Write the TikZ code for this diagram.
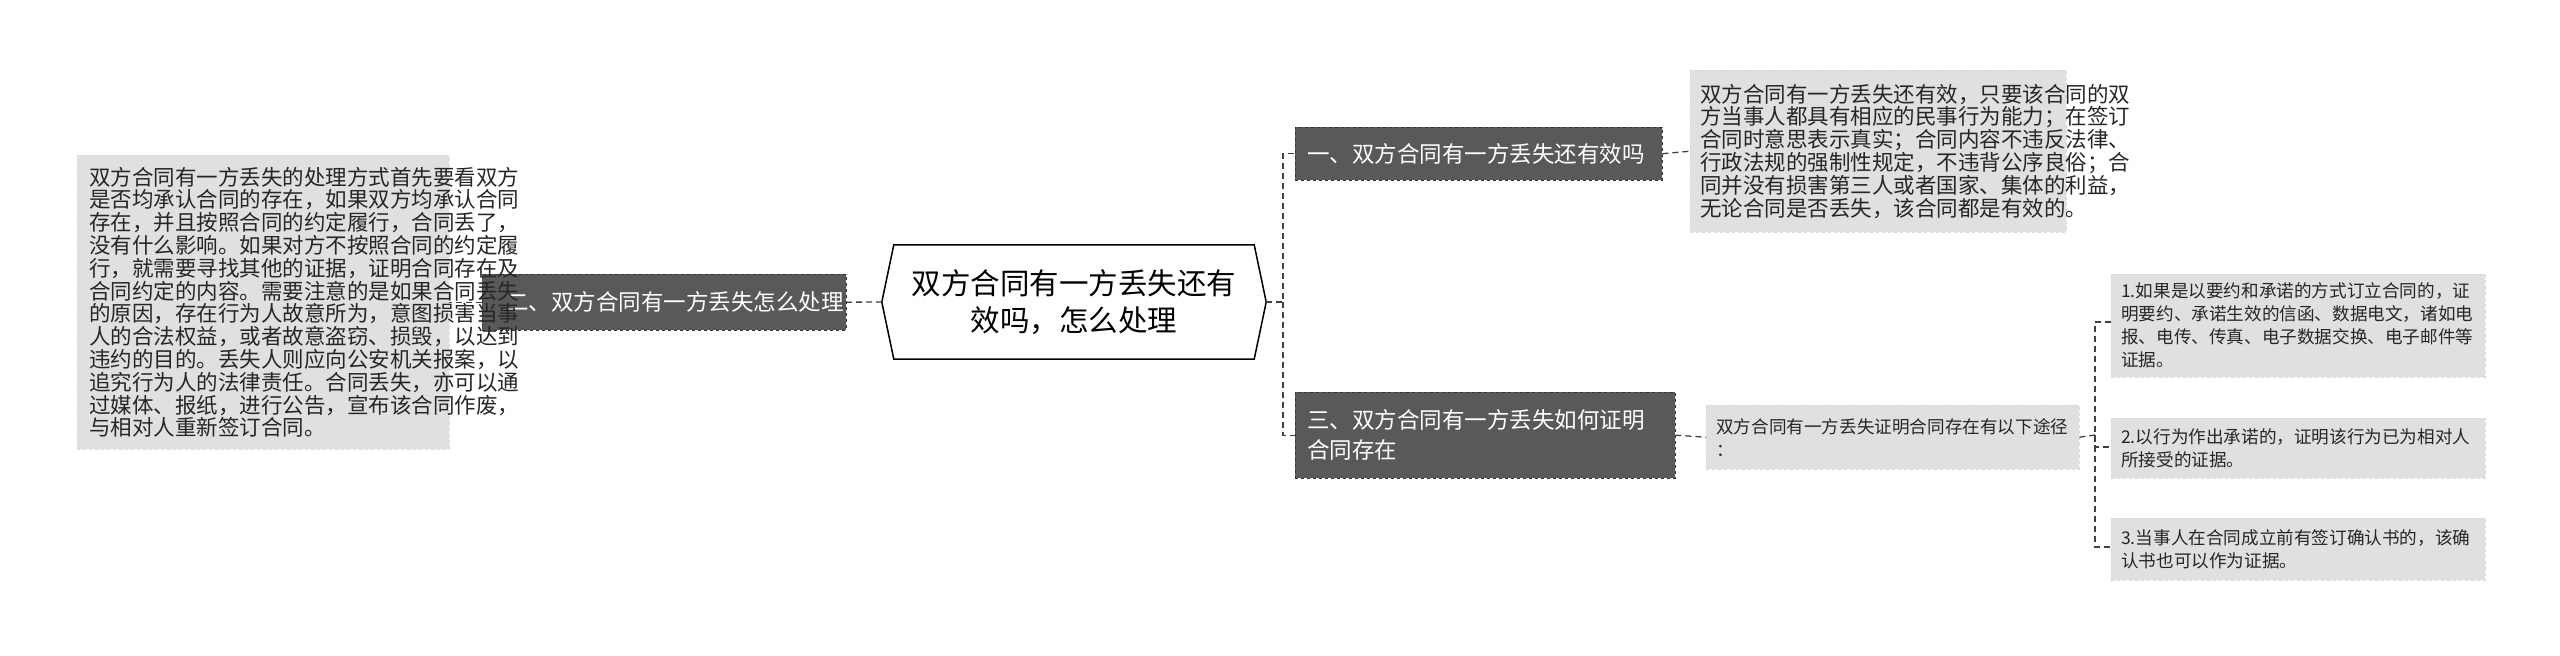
\documentclass[tikz,border=0pt]{standalone}
\usepackage{fontspec}
\setmainfont{Noto Sans CJK SC}
\begin{document}
\begin{tikzpicture}[x=1pt,y=-1pt,
  conn/.style={draw=black!75,dashed,line width=1.3pt,dash pattern=on 6pt off 4pt},
  topic/.style={draw=black!80,dashed,fill=black!65,text=white,anchor=north west,inner sep=0pt,align=left,font=\fontsize{22.5}{30}\selectfont},
  note/.style={draw=black!15,dashed,fill=black!12,text=black!85,anchor=north west,inner sep=0pt,align=left},
  bignote/.style={note,font=\fontsize{21.5}{22.8}\selectfont},
  smallnote/.style={note,font=\fontsize{17.6}{23}\selectfont}]
\useasboundingbox (0,0) rectangle (2560,656);
% center
\node[minimum width=360,minimum height=114,inner sep=0pt,align=center,font=\fontsize{29.5}{37}\selectfont] (c) at (1074,302) {双方合同有一方丢失还有\\效吗，怎么处理};
\draw[line width=1.5pt,fill=white] (c.north west) -- (c.north east) -- ([xshift=12pt]c.east) -- (c.south east) -- (c.south west) -- ([xshift=-12pt]c.west) -- cycle;
\node[inner sep=0pt,align=center,font=\fontsize{29.5}{37}\selectfont] at (1074,302) {双方合同有一方丢失还有\\效吗，怎么处理};
\coordinate (cr) at (1266,302);
\coordinate (cl) at (882,302);
% left
\node[topic,minimum width=364,minimum height=56,text width=340] (n2) at (482,274) {\hspace*{12pt}二、双方合同有一方丢失怎么处理};
\node[bignote,minimum width=372,minimum height=294,text width=348] (t2) at (77,155) {\hspace*{0pt}\hfill\parbox{348pt}{双方合同有一方丢失的处理方式首先要看双方\\是否均承认合同的存在，如果双方均承认合同\\存在，并且按照合同的约定履行，合同丢了，\\没有什么影响。如果对方不按照合同的约定履\\行，就需要寻找其他的证据，证明合同存在及\\合同约定的内容。需要注意的是如果合同丢失\\的原因，存在行为人故意所为，意图损害当事\\人的合法权益，或者故意盗窃、损毁，以达到\\违约的目的。丢失人则应向公安机关报案，以\\追究行为人的法律责任。合同丢失，亦可以通\\过媒体、报纸，进行公告，宣布该合同作废，\\与相对人重新签订合同。}\hfill\hspace*{0pt}};
\draw[conn] (cl) -- (n2.east);
\draw[conn] (n2.west) -- (t2.east);
% right topics
\node[topic,minimum width=367,minimum height=53,text width=367] (n1) at (1295,127) {\hspace*{12pt}一、双方合同有一方丢失还有效吗};
\node[topic,minimum width=380,minimum height=86,text width=380] (n3) at (1295,392) {\hspace*{12pt}\parbox{360pt}{三、双方合同有一方丢失如何证明\\合同存在}};
\coordinate (bus) at (1283,302);
\draw[conn] (cr) -- (bus) |- (n1.west);
\draw[conn] (bus) |- (n3.west);
\node[bignote,minimum width=376,minimum height=162,text width=376] (t1) at (1690,70) {\hspace*{10pt}\parbox{356pt}{双方合同有一方丢失还有效，只要该合同的双\\方当事人都具有相应的民事行为能力；在签订\\合同时意思表示真实；合同内容不违反法律、\\行政法规的强制性规定，不违背公序良俗；合\\同并没有损害第三人或者国家、集体的利益，\\无论合同是否丢失，该合同都是有效的。}};
\draw[conn] (n1.east) -- (t1.west);
\node[smallnote,minimum width=373,minimum height=64,text width=373] (t3) at (1706,405) {\hspace*{10pt}\parbox{356pt}{双方合同有一方丢失证明合同存在有以下途径\\：}};
\draw[conn] (n3.east) -- (t3.west);
\node[smallnote,minimum width=374,minimum height=103,text width=374] (r1) at (2111,274) {\hspace*{10pt}\parbox{356pt}{1.如果是以要约和承诺的方式订立合同的，证\\明要约、承诺生效的信函、数据电文，诸如电\\报、电传、传真、电子数据交换、电子邮件等\\证据。}};
\node[smallnote,minimum width=374,minimum height=60,text width=374] (r2) at (2111,418) {\hspace*{10pt}\parbox{356pt}{2.以行为作出承诺的，证明该行为已为相对人\\所接受的证据。}};
\node[smallnote,minimum width=374,minimum height=62,text width=374] (r3) at (2111,518) {\hspace*{10pt}\parbox{356pt}{3.当事人在合同成立前有签订确认书的，该确\\认书也可以作为证据。}};
\coordinate (bus2) at (2095,435);
\coordinate (p1) at (2111,322);
\coordinate (p2) at (2111,447);
\coordinate (p3) at (2111,547);
\draw[conn] (t3.east) -- (bus2);
\draw[conn] (p1) -| (bus2) |- (p3);
\draw[conn] (bus2) |- (p2);
\end{tikzpicture}
\end{document}
